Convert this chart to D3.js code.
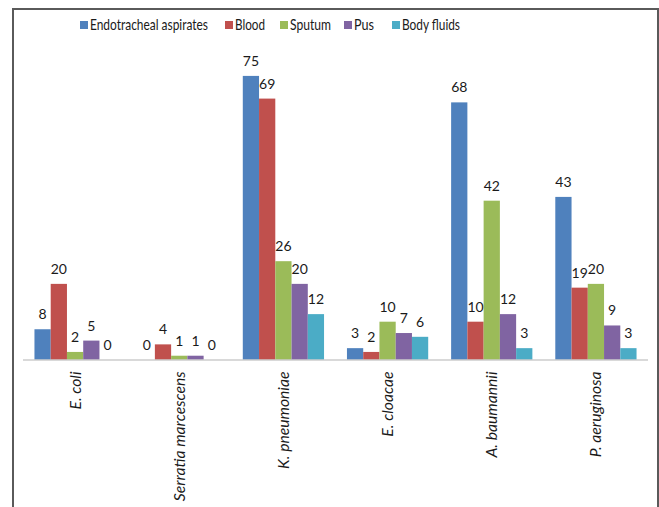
<!DOCTYPE html>
<html>
<head>
<meta charset="utf-8">
<script src="https://cdn.jsdelivr.net/npm/d3@7"></script>
<style>
  html, body { margin: 0; padding: 0; background: #fff; }
  svg { display: block; }
  text { font-family: Lato, "Open Sans", sans-serif; fill: #1a1a1a; }
</style>
</head>
<body>
<div id="chart"></div>
<script>
// Isolates by organism and specimen type
const organisms = ["E. coli", "Serratia marcescens", "K. pneumoniae", "E. cloacae", "A. baumannii", "P. aeruginosa"];
const specimens = ["Endotracheal aspirates", "Blood", "Sputum", "Pus", "Body fluids"];
const endotracheal = [8, 0, 75, 3, 68, 43];
const blood        = [20, 4, 69, 2, 10, 19];
const sputum       = [2, 1, 26, 10, 42, 20];
const pus          = [5, 1, 20, 7, 12, 9];
const bodyFluids   = [0, 0, 12, 6, 3, 3];
const colors = ["#4F81BD", "#C0504D", "#9BBB59", "#8064A2", "#4BACC6"];
const yMax = 80;

const seriesValues = [endotracheal, blood, sputum, pus, bodyFluids];

const W = 659, H = 507;
const svg = d3.select("#chart").append("svg").attr("width", W).attr("height", H);

// Outer frame (open at the bottom)
svg.append("path")
  .attr("d", "M13,507 V9 H658 V507")
  .attr("fill", "none")
  .attr("stroke", "#5a5a5a")
  .attr("stroke-width", 2);

const plot = { left: 23, right: 648, top: 57, bottom: 359.5 };

const x0 = d3.scaleBand().domain(organisms).range([plot.left, plot.right]).paddingInner(0.22).paddingOuter(0.11);
const x1 = d3.scaleBand().domain(specimens).range([0, x0.bandwidth()]);
const y = d3.scaleLinear().domain([0, yMax]).range([plot.bottom, plot.top]);

const groups = svg.append("g").selectAll("g")
  .data(organisms)
  .join("g")
  .attr("transform", d => `translate(${x0(d)},0)`);

groups.selectAll("rect")
  .data((d, i) => specimens.map((s, k) => ({ s, k, v: seriesValues[k][i] })))
  .join("rect")
  .attr("x", d => x1(d.s))
  .attr("width", x1.bandwidth())
  .attr("y", d => y(d.v))
  .attr("height", d => y(0) - y(d.v))
  .attr("fill", d => colors[d.k]);

groups.selectAll("text.val")
  .data((d, i) => specimens.map((s, k) => ({ s, k, v: seriesValues[k][i] })))
  .join("text")
  .attr("class", "val")
  .attr("x", d => x1(d.s) + x1.bandwidth() / 2)
  .attr("y", d => y(d.v) - 10)
  .attr("text-anchor", "middle")
  .attr("font-size", 14)
  .text(d => d.v);

// Category axis
const xAxis = svg.append("g")
  .attr("transform", `translate(0,${plot.bottom})`)
  .call(d3.axisBottom(x0).tickSize(0).tickSizeOuter(0));
xAxis.select(".domain").attr("stroke", "#b3b3b3").attr("stroke-width", 1.2)
  .attr("d", `M${plot.left},0.5H${plot.right}`);
xAxis.selectAll(".tick text")
  .attr("font-family", "Lato, 'Open Sans', sans-serif")
  .attr("font-size", 15.7)
  .attr("font-style", "italic")
  .attr("fill", "#1a1a1a")
  .attr("transform", "rotate(-90)")
  .attr("text-anchor", "end")
  .attr("x", -12)
  .attr("y", 0)
  .attr("dy", "0.35em");

// Legend
const legendItems = [
  { label: specimens[0], x: 80, w: 118 },
  { label: specimens[1], x: 225, w: 30 },
  { label: specimens[2], x: 280, w: 41 },
  { label: specimens[3], x: 344, w: 20 },
  { label: specimens[4], x: 392, w: 58 }
];
const legend = svg.append("g");
const li = legend.selectAll("g").data(legendItems).join("g")
  .attr("transform", d => `translate(${d.x},25)`);
li.append("rect").attr("x", 0).attr("y", -4).attr("width", 8).attr("height", 8)
  .attr("fill", (d, i) => colors[i]);
li.append("text").attr("x", 10).attr("y", 0).attr("dy", "0.35em")
  .attr("font-size", 15)
  .attr("textLength", d => d.w)
  .attr("lengthAdjust", "spacingAndGlyphs")
  .text(d => d.label);
</script>
</body>
</html>
